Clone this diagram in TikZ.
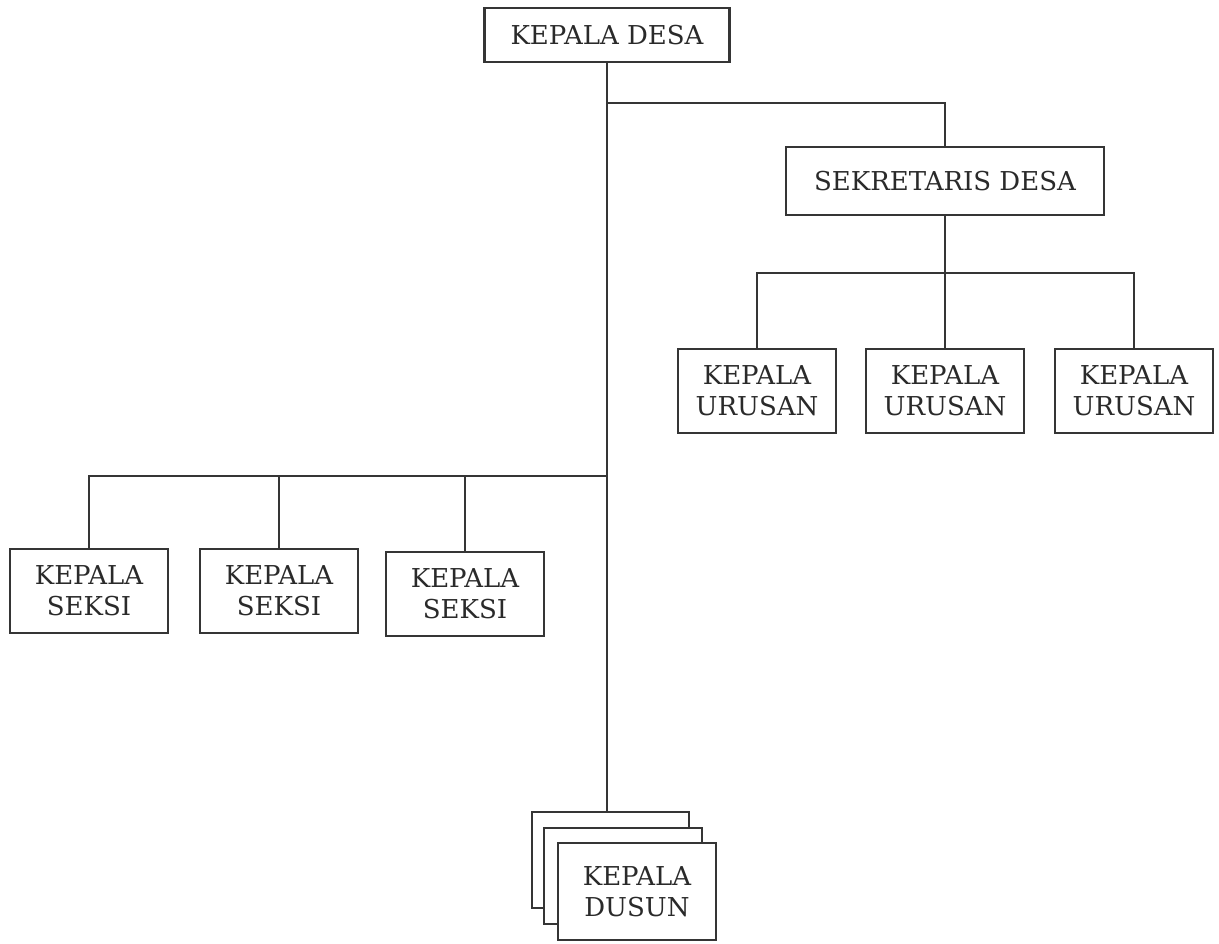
\documentclass[tikz,border=0pt]{standalone}
\usepackage{fontspec}
\setmainfont{DejaVu Serif}
\definecolor{ink}{HTML}{353535}
\definecolor{txt}{HTML}{2A2A2A}
\begin{document}
\begin{tikzpicture}[x=1pt,y=-1pt,
  box/.style={draw=ink, line width=2.4pt, fill=white, rectangle, inner sep=0pt,
    minimum width=158pt, minimum height=84pt, align=center, text=txt,
    font=\fontsize{26}{31}\selectfont},
  link/.style={draw=ink, line width=2.4pt}]
\useasboundingbox (0,0) rectangle (1219,944);
% top
\node[box, minimum width=245pt, minimum height=54pt] (top) at (607,35) {KEPALA DESA};
\node[box, minimum width=318pt, minimum height=68pt] (sek) at (945,181) {SEKRETARIS DESA};
% urusan
\node[box] (u1) at (757,391) {KEPALA\\URUSAN};
\node[box] (u2) at (945,391) {KEPALA\\URUSAN};
\node[box] (u3) at (1134,391) {KEPALA\\URUSAN};
% seksi
\node[box] (s1) at (89,591) {KEPALA\\SEKSI};
\node[box] (s2) at (279,591) {KEPALA\\SEKSI};
\node[box] (s3) at (465,594) {KEPALA\\SEKSI};
% dusun stack
\node[box, minimum width=157pt, minimum height=96pt] (d3) at (610.5,860) {};
\node[box, minimum width=158pt, minimum height=96pt] (d2) at (623,876) {};
\node[box, minimum width=158pt, minimum height=97pt] (d1) at (637,891.5) {KEPALA\\DUSUN};
% junctions
\coordinate (j1) at (top.south |- 0,103);
\coordinate (j2) at (sek.south |- 0,273);
\coordinate (j3) at (top.south |- 0,476);
% connectors
\draw[link] (top.south) -- (top.south |- d3.north);
\draw[link] (j1) -| (sek.north);
\draw[link] (sek.south) -- (u2.north);
\draw[link] (u1.north) |- (j2) -| (u3.north);
\draw[link] (j3) -| (s1.north);
\draw[link] (s2.north) -- (s2.north |- j3);
\draw[link] (s3.north) -- (s3.north |- j3);
\end{tikzpicture}
\end{document}
